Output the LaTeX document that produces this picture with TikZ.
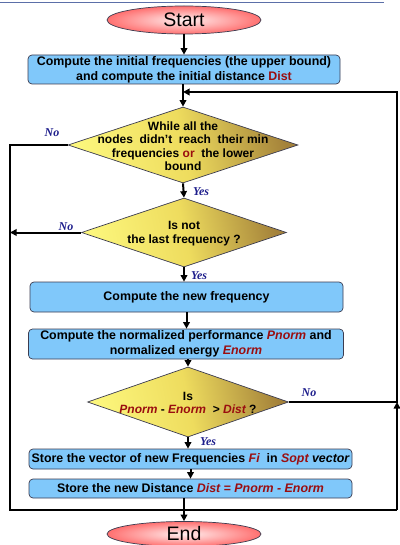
\documentclass[tikz,border=0pt]{standalone}
\usepackage{fontspec}
\setmainfont{Liberation Sans}
\newfontfamily\lblfont{Liberation Serif}
\usetikzlibrary{shapes.geometric,arrows.meta,calc}
\definecolor{boxblue}{HTML}{80C8FA}
\definecolor{boxedge}{HTML}{3C3C50}
\definecolor{dred}{HTML}{9A0E10}
\definecolor{lblue}{HTML}{1E1E8C}
\definecolor{topline}{HTML}{5B6FA8}
\definecolor{dyell}{HTML}{FCF67C}
\definecolor{dmid}{HTML}{EEDC5E}
\definecolor{dgold}{HTML}{A4823A}
\pgfdeclarehorizontalshading{dshade}{100bp}{color(0bp)=(dyell); color(25bp)=(dyell); color(50bp)=(dmid); color(75bp)=(dgold); color(100bp)=(dgold)}
\newcommand{\rt}[1]{\textcolor{dred}{#1}}
\newcommand{\ri}[1]{\textcolor{dred}{\itshape #1}}
\tikzset{
  procbox/.style={rectangle, rounded corners=4pt, draw=boxedge, line width=0.7pt, fill=boxblue,
    inner sep=0pt, align=center, font=\fontsize{12.4}{15}\selectfont\bfseries},
  decis/.style={diamond, draw=boxedge, line width=0.7pt, shading=dshade, shading angle=12,
    inner sep=0pt},
  dtext/.style={align=center, inner sep=0pt, font=\fontsize{12}{13.5}\selectfont\bfseries},
  term/.style={ellipse, draw=boxedge, line width=0.7pt, inner color=red!6, outer color=red!50!pink!90!white,
    inner sep=0pt, font=\fontsize{19.5}{20}\selectfont},
  conn/.style={line width=2pt, black},
  arr/.style={conn, -{Triangle[length=6.5pt,width=6.5pt]}},
  lbl/.style={font=\lblfont\fontsize{12}{12}\selectfont\bfseries\itshape, text=lblue, inner sep=0pt}
}
\begin{document}
\begin{tikzpicture}[x=1pt,y=-1pt]
\useasboundingbox (0,0) rectangle (399,545);
\draw[topline, line width=1pt] (0,3) -- (384,3);

\node[term, minimum width=154pt, minimum height=28pt] (start) at (184,20) {Start};
\node[procbox, minimum width=312pt, minimum height=29pt] (b1) at (184,69.5)
  {Compute the initial frequencies (the upper bound)\\ and compute the initial distance \rt{Dist}};
\node[decis, minimum width=230pt, minimum height=76pt] (d1) at (183,145) {};
\node[dtext] (t1) at (183,146) {While all the\\ nodes~ didn't~ reach~ their min\\ frequencies \rt{or}~ the lower\\ bound};
\node[decis, minimum width=205pt, minimum height=69pt] (d2) at (184,232.5) {};
\node[dtext] (t2) at (184,233.5) {Is not\\ the last frequency ?};
\node[procbox, minimum width=313pt, minimum height=30pt] (b3) at (186.5,297) {Compute the new frequency};
\node[procbox, minimum width=315pt, minimum height=30pt] (b4) at (186,344)
  {Compute the normalized performance \ri{Pnorm} and\\ normalized energy \ri{Enorm}};
\node[decis, minimum width=201pt, minimum height=70pt] (d3) at (188,402) {};
\node[dtext] (t3) at (188,403) {Is\\ \ri{Pnorm} - \ri{Enorm}~ > \ri{Dist} ?};
\node[procbox, minimum width=323pt, minimum height=20pt] (b5) at (190.5,459)
  {Store the vector of new Frequencies \ri{Fi}~ in \ri{Sopt} {\itshape vector}};
\node[procbox, minimum width=323pt, minimum height=19pt] (b6) at (190.5,488.5)
  {Store the new Distance \ri{Dist = Pnorm - Enorm}};
\node[term, minimum width=154pt, minimum height=25pt] (end) at (184,534) {End};

\coordinate (lbot) at (10,510);
\coordinate (rbot) at (397,510);
\coordinate (rtop) at (397,92);

% main flow
\draw[arr] (start.south) -- (start.south |- b1.north);
\draw[arr] (b1.south -| d1.north) -- (d1.north);
\draw[arr] (d1.south) -- (d2.north);
\draw[arr] (d2.south) -- (d2.south |- b3.north);
\draw[arr] (b3.south) -- (b3.south |- b4.north);
\draw[arr] (b4.south -| d3.north) -- (d3.north);
\draw[arr] (d3.south) -- (d3.south |- b5.north);
\draw[arr] (b5.south) -- (b5.south |- b6.north);
\draw[arr] (b6.south -| end.north) -- (end.north);

% loops
\draw[conn] (d1.west) -| (lbot) -- (rbot);
\draw[arr] (d2.west) -- (d2.west -| lbot);
\draw[arr] (rbot) -- (rbot |- d3.east);
\draw[arr] (d3.east) -- (d3.east -| rtop) -- (rtop) -- (rtop -| d1.north);

% labels
\node[lbl] (n1) at (52,133) {No};
\node[lbl] (y1) at (201,192) {Yes};
\node[lbl] (n2) at (66,227) {No};
\node[lbl] (y2) at (199,276) {Yes};
\node[lbl] (n3) at (309,393) {No};
\node[lbl] (y3) at (208,442) {Yes};
\end{tikzpicture}
\end{document}
